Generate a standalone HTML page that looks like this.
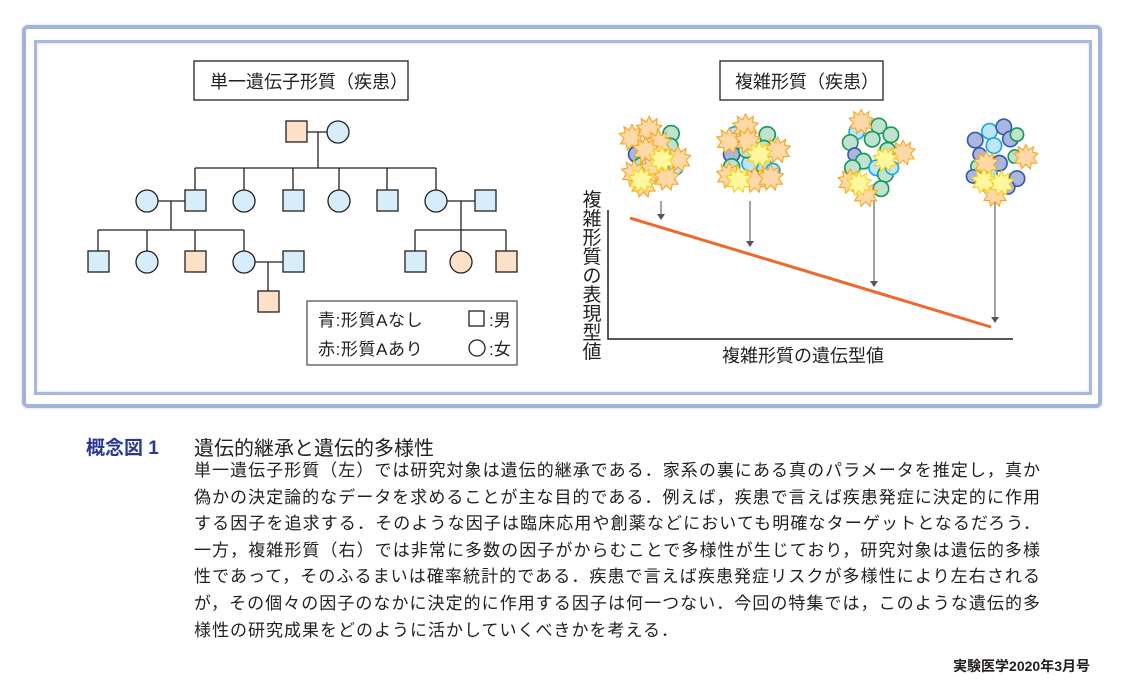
<!DOCTYPE html>
<html><head><meta charset="utf-8"><style>
body{margin:0;width:1121px;height:688px;background:#fff;position:relative;overflow:hidden;font-family:"Liberation Sans","Noto Sans CJK JP",sans-serif;color:#231f20}
.abs{position:absolute}
.ln{position:absolute;left:194px;width:846px;font-size:17px;text-align:justify;text-align-last:justify;white-space:nowrap;line-height:20px}
</style></head><body>
<div class="abs" style="left:22px;top:25px;width:1072px;height:375px;border:4px solid #a3b3dc;border-radius:6px;box-shadow:0 0 2px #c5d0ec"></div>
<div class="abs" style="left:34px;top:40px;width:1052px;height:349px;border:3px solid #a9b8df;box-shadow:inset 0 0 2px #c5d0ec"></div>
<svg class="abs" style="left:0;top:0" width="1121" height="688">
<defs>
<polygon id="st" points="0,-11 2.5,-6 7,-9 6,-4 11,-3 7,1 10,6 5,6 4,11 0,7 -4,11 -5,6 -10,6 -7,1 -11,-3 -6,-4 -7,-9 -2.5,-6" />
</defs>
<g fill="none" stroke="#231f20" stroke-width="1.3">
<rect x="194" y="61" width="214" height="39"/>
<rect x="720" y="61" width="163" height="39"/>
<rect x="307" y="301" width="210" height="64" stroke="#555"/>
<path d="M306 132H327M318 132V168M195 168H436M195 168V190M244 168V190M293 168V190M339 168V190M387 168V190M436 168V190M158 201H185M171 201V230M98 230H244M98 230V251M147 230V251M195 230V251M244 230V251M255 262H283M268 262V291M447 201H475M461 201V230M415 230H506M415 230V251M461 230V251M506 230V251"/>
</g>
<g stroke="#231f20" stroke-width="1.3">
<rect x="286" y="121" width="21" height="21" fill="#fde0c8"/>
<circle cx="338" cy="132" r="11" fill="#d6eefa"/>
<g fill="#d6eefa">
<circle cx="147" cy="201" r="11"/><rect x="185" y="190" width="21" height="21"/>
<circle cx="244" cy="201" r="11"/><rect x="283" y="190" width="21" height="21"/>
<circle cx="339" cy="201" r="11"/><rect x="377" y="190" width="21" height="21"/>
<circle cx="436" cy="201" r="11"/><rect x="475" y="190" width="21" height="21"/>
<rect x="88" y="251" width="21" height="21"/><circle cx="147" cy="262" r="11"/>
<circle cx="244" cy="262" r="11"/><rect x="283" y="251" width="21" height="21"/>
<rect x="405" y="251" width="21" height="21"/>
</g>
<g fill="#fde0c8">
<rect x="185" y="251" width="21" height="21"/>
<rect x="258" y="291" width="21" height="21"/>
<circle cx="461" cy="262" r="11"/>
<rect x="496" y="251" width="21" height="21"/>
</g>
</g>
<g fill="#fff" stroke="#231f20" stroke-width="1.3">
<rect x="469" y="311" width="15" height="15"/>
<circle cx="477" cy="348" r="8"/>
</g>
<g font-size="18" fill="#231f20">
<text x="210" y="88">単一遺伝子形質（疾患）</text>
<text x="735" y="88">複雑形質（疾患）</text>
</g>
<g font-size="17" fill="#231f20">
<text x="318" y="326" letter-spacing="0.6">青:形質Aなし</text>
<text x="318" y="355" letter-spacing="0.6">赤:形質Aあり</text>
<text x="489" y="326">:男</text>
<text x="489" y="355">:女</text>
</g>
<path d="M608 210V339H1013" fill="none" stroke="#231f20" stroke-width="1.5"/>
<line x1="630" y1="218" x2="991" y2="327" stroke="#ee6a2c" stroke-width="3"/>
<g stroke="#666" stroke-width="1.2" fill="#555">
<line x1="661" y1="201" x2="661" y2="215"/><polygon points="657,214 665,214 661,220" stroke="none"/>
<line x1="750" y1="201" x2="750" y2="242"/><polygon points="746,241 754,241 750,247" stroke="none"/>
<line x1="874" y1="201" x2="874" y2="282"/><polygon points="870,281 878,281 874,287" stroke="none"/>
<line x1="995" y1="201" x2="995" y2="318"/><polygon points="991,317 999,317 995,323" stroke="none"/>
</g>
<g font-size="19" fill="#231f20" text-anchor="middle">
<text x="592" y="206">複</text><text x="592" y="225">雑</text><text x="592" y="244">形</text><text x="592" y="263">質</text>
<text x="592" y="282">の</text><text x="592" y="301">表</text><text x="592" y="320">現</text><text x="592" y="339">型</text><text x="592" y="358">値</text>
</g>
<text x="803" y="362" font-size="18" text-anchor="middle" fill="#231f20">複雑形質の遺伝型値</text>
<g stroke-width="1.5">
<g transform="translate(655,152) scale(1.15)">
<circle cx="-16" cy="2" r="7" fill="#a9b6e0" stroke="#3a5aa8"/><circle cx="-12" cy="12" r="7" fill="#bfe3cf" stroke="#1a9a5a"/>
<circle cx="14" cy="-16" r="7" fill="#bfe3cf" stroke="#1a9a5a"/><circle cx="13" cy="-5" r="7" fill="#bfe3cf" stroke="#1a9a5a"/>
<circle cx="18" cy="14" r="6" fill="#bde6f7" stroke="#1aa7e0"/>
<g fill="#fdd9a8" stroke="#f5a623" stroke-width="1">
<use href="#st" x="-20" y="-13"/><use href="#st" x="-5" y="-20"/><use href="#st" x="3" y="-8"/><use href="#st" x="-8" y="-2"/>
<use href="#st" x="20" y="6"/><use href="#st" x="-18" y="18"/><use href="#st" x="-2" y="14"/><use href="#st" x="10" y="22"/>
<use href="#st" x="-10" y="28"/></g>
<use href="#st" x="-12" y="24" fill="#fff6a0" stroke="#f2d11a" stroke-width="1"/>
<use href="#st" x="6" y="6" fill="#fff6a0" stroke="#f2d11a" stroke-width="1"/>
</g>
<g transform="translate(750,152) scale(1.15)">
<circle cx="-13" cy="-15" r="7" fill="#bde6f7" stroke="#1aa7e0"/><circle cx="-16" cy="2" r="7" fill="#a9b6e0" stroke="#3a5aa8"/>
<circle cx="-16" cy="13" r="7" fill="#bfe3cf" stroke="#1a9a5a"/><circle cx="15" cy="-15" r="7" fill="#bfe3cf" stroke="#1a9a5a"/>
<circle cx="12" cy="-3" r="7" fill="#bfe3cf" stroke="#1a9a5a"/><circle cx="12" cy="12" r="7" fill="#bfe3cf" stroke="#1a9a5a"/>
<circle cx="0" cy="10" r="7" fill="#bde6f7" stroke="#1aa7e0"/><circle cx="-3" cy="-2" r="7" fill="#bfe3cf" stroke="#1a9a5a"/>
<circle cx="20" cy="16" r="6" fill="#bde6f7" stroke="#1aa7e0"/>
<g fill="#fdd9a8" stroke="#f5a623" stroke-width="1">
<use href="#st" x="-18" y="-10"/><use href="#st" x="-4" y="-22"/><use href="#st" x="24" y="-2"/><use href="#st" x="-18" y="20"/>
<use href="#st" x="4" y="24"/><use href="#st" x="18" y="22"/><use href="#st" x="-2" y="-10"/></g>
<use href="#st" x="-10" y="24" fill="#fff6a0" stroke="#f2d11a" stroke-width="1"/>
<use href="#st" x="8" y="2" fill="#fff6a0" stroke="#f2d11a" stroke-width="1"/>
</g>
<g transform="translate(870,148) scale(1.1)">
<circle cx="-12" cy="-15" r="7" fill="#bde6f7" stroke="#1aa7e0"/><circle cx="8" cy="-20" r="7" fill="#bfe3cf" stroke="#1a9a5a"/>
<circle cx="19" cy="-12" r="7" fill="#bfe3cf" stroke="#1a9a5a"/><circle cx="-18" cy="-5" r="7" fill="#bfe3cf" stroke="#1a9a5a"/>
<circle cx="-14" cy="6" r="6" fill="#a9b6e0" stroke="#3a5aa8"/><circle cx="2" cy="-8" r="7" fill="#bfe3cf" stroke="#1a9a5a"/>
<circle cx="16" cy="2" r="7" fill="#bfe3cf" stroke="#1a9a5a"/><circle cx="-6" cy="12" r="7" fill="#bfe3cf" stroke="#1a9a5a"/>
<circle cx="-16" cy="18" r="7" fill="#bfe3cf" stroke="#1a9a5a"/><circle cx="6" cy="18" r="7" fill="#bde6f7" stroke="#1aa7e0"/>
<circle cx="14" cy="24" r="7" fill="#bfe3cf" stroke="#1a9a5a"/><circle cx="20" cy="18" r="6" fill="#bde6f7" stroke="#1aa7e0"/>
<circle cx="10" cy="37" r="7" fill="#bfe3cf" stroke="#1a9a5a"/>
<g fill="#fdd9a8" stroke="#f5a623" stroke-width="1">
<use href="#st" x="-8" y="-24"/><use href="#st" x="30" y="4"/><use href="#st" x="-18" y="30"/><use href="#st" x="-4" y="42"/></g>
<use href="#st" x="-10" y="32" fill="#fff6a0" stroke="#f2d11a" stroke-width="1"/>
<use href="#st" x="14" y="10" fill="#fff6a0" stroke="#f2d11a" stroke-width="1"/>
</g>
<g transform="translate(995,150) scale(1.1)">
<circle cx="-5" cy="-17" r="7" fill="#bde6f7" stroke="#1aa7e0"/><circle cx="8" cy="-21" r="7" fill="#a9b6e0" stroke="#3a5aa8"/>
<circle cx="-18" cy="-9" r="7" fill="#a9b6e0" stroke="#3a5aa8"/><circle cx="-1" cy="-4" r="7" fill="#bde6f7" stroke="#1aa7e0"/>
<circle cx="14" cy="-10" r="7" fill="#a9b6e0" stroke="#3a5aa8"/><circle cx="20" cy="-14" r="6" fill="#bfe3cf" stroke="#1a9a5a"/>
<circle cx="-14" cy="4" r="6" fill="#a9b6e0" stroke="#3a5aa8"/><circle cx="-16" cy="15" r="6" fill="#bfe3cf" stroke="#1a9a5a"/>
<circle cx="-20" cy="24" r="6" fill="#a9b6e0" stroke="#3a5aa8"/><circle cx="4" cy="12" r="7" fill="#a9b6e0" stroke="#3a5aa8"/>
<circle cx="18" cy="6" r="6" fill="#bfe3cf" stroke="#1a9a5a"/><circle cx="20" cy="26" r="7" fill="#a9b6e0" stroke="#3a5aa8"/>
<circle cx="12" cy="34" r="6" fill="#a9b6e0" stroke="#3a5aa8"/><circle cx="-4" cy="22" r="6" fill="#bde6f7" stroke="#1aa7e0"/>
<g fill="#fdd9a8" stroke="#f5a623" stroke-width="1">
<use href="#st" x="28" y="6"/><use href="#st" x="-8" y="12"/><use href="#st" x="0" y="40"/></g>
<use href="#st" x="-10" y="28" fill="#fff6a0" stroke="#f2d11a" stroke-width="1"/>
<use href="#st" x="6" y="30" fill="#fff6a0" stroke="#f2d11a" stroke-width="1"/>
</g>
</g>
</svg>
<div class="abs" style="left:86px;top:433px;font-size:19px;font-weight:bold;color:#2b3990;white-space:nowrap">概念図 1</div>
<div class="abs" style="left:194px;top:432px;font-size:20px;white-space:nowrap">遺伝的継承と遺伝的多様性</div>
<div class="ln" style="top:461px">単一遺伝子形質（左）では研究対象は遺伝的継承である．家系の裏にある真のパラメータを推定し，真か</div>
<div class="ln" style="top:488px">偽かの決定論的なデータを求めることが主な目的である．例えば，疾患で言えば疾患発症に決定的に作用</div>
<div class="ln" style="top:514px">する因子を追求する．そのような因子は臨床応用や創薬などにおいても明確なターゲットとなるだろう．</div>
<div class="ln" style="top:541px">一方，複雑形質（右）では非常に多数の因子がからむことで多様性が生じており，研究対象は遺伝的多様</div>
<div class="ln" style="top:567px">性であって，そのふるまいは確率統計的である．疾患で言えば疾患発症リスクが多様性により左右される</div>
<div class="ln" style="top:594px">が，その個々の因子のなかに決定的に作用する因子は何一つない．今回の特集では，このような遺伝的多</div>
<div class="ln" style="top:621px;text-align-last:left;letter-spacing:1px">様性の研究成果をどのように活かしていくべきかを考える．</div>
<div class="abs" style="right:31px;top:656px;font-size:14px;font-weight:bold;white-space:nowrap">実験医学2020年3月号</div>
</body></html>
